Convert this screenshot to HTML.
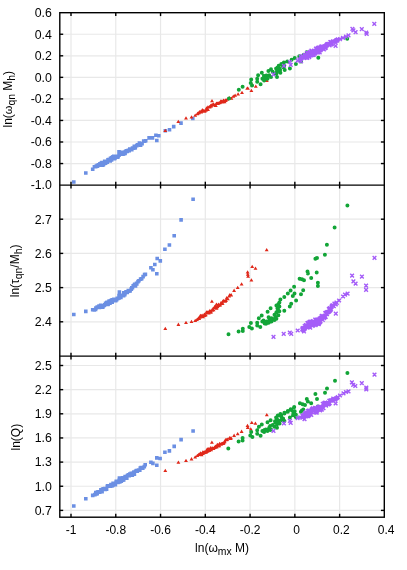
<!DOCTYPE html>
<html><head><meta charset="utf-8"><title>plot</title>
<style>html,body{margin:0;padding:0;background:#fff}body{width:407px;height:570px;overflow:hidden;font-family:"Liberation Sans",sans-serif}</style>
</head><body>
<svg width="407" height="570" viewBox="0 0 407 570" style="display:block;will-change:transform;opacity:0.999">
<rect width="407" height="570" fill="#fff"/>
<g stroke="#e8e8e8" stroke-width="1.2" fill="none">
<line x1="71.00" y1="12.7" x2="71.00" y2="517.2"/>
<line x1="115.77" y1="12.7" x2="115.77" y2="517.2"/>
<line x1="160.54" y1="12.7" x2="160.54" y2="517.2"/>
<line x1="205.31" y1="12.7" x2="205.31" y2="517.2"/>
<line x1="250.08" y1="12.7" x2="250.08" y2="517.2"/>
<line x1="294.85" y1="12.7" x2="294.85" y2="517.2"/>
<line x1="339.62" y1="12.7" x2="339.62" y2="517.2"/>
<line x1="59.8" y1="34.25" x2="384.3" y2="34.25"/>
<line x1="59.8" y1="55.80" x2="384.3" y2="55.80"/>
<line x1="59.8" y1="77.35" x2="384.3" y2="77.35"/>
<line x1="59.8" y1="98.90" x2="384.3" y2="98.90"/>
<line x1="59.8" y1="120.45" x2="384.3" y2="120.45"/>
<line x1="59.8" y1="142.00" x2="384.3" y2="142.00"/>
<line x1="59.8" y1="163.55" x2="384.3" y2="163.55"/>
<line x1="59.8" y1="219.20" x2="384.3" y2="219.20"/>
<line x1="59.8" y1="253.40" x2="384.3" y2="253.40"/>
<line x1="59.8" y1="287.60" x2="384.3" y2="287.60"/>
<line x1="59.8" y1="321.80" x2="384.3" y2="321.80"/>
<line x1="59.8" y1="365.50" x2="384.3" y2="365.50"/>
<line x1="59.8" y1="389.65" x2="384.3" y2="389.65"/>
<line x1="59.8" y1="413.80" x2="384.3" y2="413.80"/>
<line x1="59.8" y1="437.95" x2="384.3" y2="437.95"/>
<line x1="59.8" y1="462.10" x2="384.3" y2="462.10"/>
<line x1="59.8" y1="486.25" x2="384.3" y2="486.25"/>
<line x1="59.8" y1="510.40" x2="384.3" y2="510.40"/>
</g>
<path fill="#6b8fe3" d="M72.00 180.20h3.6v3.6h-3.6zM84.00 171.20h3.6v3.6h-3.6zM90.90 167.50h3.6v3.6h-3.6zM147.30 136.10h3.6v3.6h-3.6zM150.70 136.10h3.6v3.6h-3.6zM154.10 133.50h3.6v3.6h-3.6zM155.00 138.70h3.6v3.6h-3.6zM157.00 133.90h3.6v3.6h-3.6zM163.50 129.00h3.6v3.6h-3.6zM167.70 128.00h3.6v3.6h-3.6zM171.90 124.80h3.6v3.6h-3.6zM179.20 121.30h3.6v3.6h-3.6zM191.00 116.70h3.6v3.6h-3.6zM117.20 149.90h3.6v3.6h-3.6zM92.60 165.00h3.6v3.6h-3.6zM93.90 165.00h3.6v3.6h-3.6zM94.30 164.50h3.6v3.6h-3.6zM95.30 163.80h3.6v3.6h-3.6zM95.70 164.40h3.6v3.6h-3.6zM96.60 163.10h3.6v3.6h-3.6zM97.30 163.30h3.6v3.6h-3.6zM98.10 162.00h3.6v3.6h-3.6zM98.70 162.70h3.6v3.6h-3.6zM99.00 161.70h3.6v3.6h-3.6zM99.70 161.40h3.6v3.6h-3.6zM100.10 160.70h3.6v3.6h-3.6zM100.70 163.40h3.6v3.6h-3.6zM101.60 162.10h3.6v3.6h-3.6zM101.60 162.80h3.6v3.6h-3.6zM102.70 161.60h3.6v3.6h-3.6zM102.90 159.40h3.6v3.6h-3.6zM103.60 161.50h3.6v3.6h-3.6zM104.30 160.70h3.6v3.6h-3.6zM104.70 159.80h3.6v3.6h-3.6zM105.50 160.30h3.6v3.6h-3.6zM106.20 158.10h3.6v3.6h-3.6zM106.80 157.70h3.6v3.6h-3.6zM107.40 158.50h3.6v3.6h-3.6zM107.60 158.50h3.6v3.6h-3.6zM108.40 159.20h3.6v3.6h-3.6zM108.70 156.60h3.6v3.6h-3.6zM109.80 158.10h3.6v3.6h-3.6zM109.90 156.10h3.6v3.6h-3.6zM110.70 155.50h3.6v3.6h-3.6zM111.20 154.90h3.6v3.6h-3.6zM112.00 154.60h3.6v3.6h-3.6zM112.70 156.80h3.6v3.6h-3.6zM113.20 156.10h3.6v3.6h-3.6zM113.50 155.60h3.6v3.6h-3.6zM114.30 154.60h3.6v3.6h-3.6zM114.50 155.00h3.6v3.6h-3.6zM115.20 154.60h3.6v3.6h-3.6zM115.90 155.30h3.6v3.6h-3.6zM116.30 154.60h3.6v3.6h-3.6zM117.20 153.50h3.6v3.6h-3.6zM117.40 152.20h3.6v3.6h-3.6zM118.50 151.90h3.6v3.6h-3.6zM118.60 152.00h3.6v3.6h-3.6zM119.40 152.30h3.6v3.6h-3.6zM119.70 150.60h3.6v3.6h-3.6zM120.60 150.80h3.6v3.6h-3.6zM121.20 152.40h3.6v3.6h-3.6zM121.50 151.30h3.6v3.6h-3.6zM122.30 151.90h3.6v3.6h-3.6zM123.20 150.30h3.6v3.6h-3.6zM123.30 151.70h3.6v3.6h-3.6zM123.80 149.80h3.6v3.6h-3.6zM124.60 148.90h3.6v3.6h-3.6zM125.30 149.60h3.6v3.6h-3.6zM125.70 149.20h3.6v3.6h-3.6zM126.50 148.50h3.6v3.6h-3.6zM126.70 148.80h3.6v3.6h-3.6zM127.40 149.00h3.6v3.6h-3.6zM128.00 147.20h3.6v3.6h-3.6zM129.00 147.40h3.6v3.6h-3.6zM129.20 147.90h3.6v3.6h-3.6zM130.00 147.80h3.6v3.6h-3.6zM130.70 146.20h3.6v3.6h-3.6zM131.00 146.20h3.6v3.6h-3.6zM131.70 146.50h3.6v3.6h-3.6zM132.50 144.40h3.6v3.6h-3.6zM133.00 146.10h3.6v3.6h-3.6zM133.50 145.90h3.6v3.6h-3.6zM134.90 144.00h3.6v3.6h-3.6zM135.60 143.10h3.6v3.6h-3.6zM137.00 142.90h3.6v3.6h-3.6zM137.60 141.20h3.6v3.6h-3.6zM138.80 143.40h3.6v3.6h-3.6zM140.30 141.80h3.6v3.6h-3.6zM141.90 139.30h3.6v3.6h-3.6zM142.80 139.40h3.6v3.6h-3.6zM143.90 138.90h3.6v3.6h-3.6z"/>
<path fill="#e0281a" d="M165.30 128.82l1.95 3.3h-3.9zM178.30 119.72l1.95 3.3h-3.9zM186.00 116.32l1.95 3.3h-3.9zM191.50 115.32l1.95 3.3h-3.9zM195.20 113.42l1.95 3.3h-3.9zM212.00 99.02l1.95 3.3h-3.9zM235.10 93.52l1.95 3.3h-3.9zM238.10 92.22l1.95 3.3h-3.9zM242.00 90.82l1.95 3.3h-3.9zM247.90 86.52l1.95 3.3h-3.9zM251.40 88.82l1.95 3.3h-3.9zM255.80 84.52l1.95 3.3h-3.9zM247.20 86.52l1.95 3.3h-3.9zM252.40 83.02l1.95 3.3h-3.9zM266.80 78.62l1.95 3.3h-3.9zM197.30 111.92l1.95 3.3h-3.9zM198.10 111.32l1.95 3.3h-3.9zM199.00 111.02l1.95 3.3h-3.9zM199.40 110.32l1.95 3.3h-3.9zM200.10 109.72l1.95 3.3h-3.9zM201.20 110.32l1.95 3.3h-3.9zM201.70 109.42l1.95 3.3h-3.9zM202.30 108.12l1.95 3.3h-3.9zM202.90 109.22l1.95 3.3h-3.9zM203.50 108.72l1.95 3.3h-3.9zM204.60 109.32l1.95 3.3h-3.9zM204.70 109.42l1.95 3.3h-3.9zM205.90 108.42l1.95 3.3h-3.9zM206.50 106.32l1.95 3.3h-3.9zM206.80 107.52l1.95 3.3h-3.9zM207.90 105.32l1.95 3.3h-3.9zM208.00 107.72l1.95 3.3h-3.9zM209.30 105.12l1.95 3.3h-3.9zM209.90 104.92l1.95 3.3h-3.9zM210.60 103.72l1.95 3.3h-3.9zM211.20 104.12l1.95 3.3h-3.9zM211.80 103.22l1.95 3.3h-3.9zM212.50 103.02l1.95 3.3h-3.9zM213.10 102.72l1.95 3.3h-3.9zM213.70 102.62l1.95 3.3h-3.9zM214.30 103.22l1.95 3.3h-3.9zM215.20 103.32l1.95 3.3h-3.9zM215.80 103.72l1.95 3.3h-3.9zM216.40 101.42l1.95 3.3h-3.9zM217.30 101.62l1.95 3.3h-3.9zM218.10 101.42l1.95 3.3h-3.9zM218.20 101.22l1.95 3.3h-3.9zM219.50 101.02l1.95 3.3h-3.9zM220.10 100.52l1.95 3.3h-3.9zM220.60 99.52l1.95 3.3h-3.9zM221.00 99.42l1.95 3.3h-3.9zM221.80 99.62l1.95 3.3h-3.9zM222.60 100.12l1.95 3.3h-3.9zM223.10 99.02l1.95 3.3h-3.9zM223.60 98.42l1.95 3.3h-3.9zM224.60 99.92l1.95 3.3h-3.9zM225.20 98.52l1.95 3.3h-3.9zM225.80 98.62l1.95 3.3h-3.9zM227.20 97.42l1.95 3.3h-3.9zM228.30 96.82l1.95 3.3h-3.9zM229.60 96.02l1.95 3.3h-3.9zM231.40 96.42l1.95 3.3h-3.9zM233.30 94.42l1.95 3.3h-3.9z"/>
<path fill="#12a537" d="M227.00 98.60a2.0 2.0 0 1 0 4.0 0a2.0 2.0 0 1 0 -4.0 0zM236.80 89.70a2.0 2.0 0 1 0 4.0 0a2.0 2.0 0 1 0 -4.0 0zM240.60 86.80a2.0 2.0 0 1 0 4.0 0a2.0 2.0 0 1 0 -4.0 0zM249.20 79.60a2.0 2.0 0 1 0 4.0 0a2.0 2.0 0 1 0 -4.0 0zM259.80 72.70a2.0 2.0 0 1 0 4.0 0a2.0 2.0 0 1 0 -4.0 0zM345.20 38.70a2.0 2.0 0 1 0 4.0 0a2.0 2.0 0 1 0 -4.0 0zM316.30 57.80a2.0 2.0 0 1 0 4.0 0a2.0 2.0 0 1 0 -4.0 0zM304.70 52.20a2.0 2.0 0 1 0 4.0 0a2.0 2.0 0 1 0 -4.0 0zM299.00 61.50a2.0 2.0 0 1 0 4.0 0a2.0 2.0 0 1 0 -4.0 0zM301.50 55.00a2.0 2.0 0 1 0 4.0 0a2.0 2.0 0 1 0 -4.0 0zM307.00 53.50a2.0 2.0 0 1 0 4.0 0a2.0 2.0 0 1 0 -4.0 0zM248.70 83.00a2.0 2.0 0 1 0 4.0 0a2.0 2.0 0 1 0 -4.0 0zM250.00 85.60a2.0 2.0 0 1 0 4.0 0a2.0 2.0 0 1 0 -4.0 0zM255.20 78.70a2.0 2.0 0 1 0 4.0 0a2.0 2.0 0 1 0 -4.0 0zM256.10 75.30a2.0 2.0 0 1 0 4.0 0a2.0 2.0 0 1 0 -4.0 0zM255.20 81.80a2.0 2.0 0 1 0 4.0 0a2.0 2.0 0 1 0 -4.0 0zM258.60 84.20a2.0 2.0 0 1 0 4.0 0a2.0 2.0 0 1 0 -4.0 0zM260.40 78.70a2.0 2.0 0 1 0 4.0 0a2.0 2.0 0 1 0 -4.0 0zM262.10 80.40a2.0 2.0 0 1 0 4.0 0a2.0 2.0 0 1 0 -4.0 0zM263.80 77.00a2.0 2.0 0 1 0 4.0 0a2.0 2.0 0 1 0 -4.0 0zM265.50 78.70a2.0 2.0 0 1 0 4.0 0a2.0 2.0 0 1 0 -4.0 0zM267.20 75.30a2.0 2.0 0 1 0 4.0 0a2.0 2.0 0 1 0 -4.0 0zM269.00 77.00a2.0 2.0 0 1 0 4.0 0a2.0 2.0 0 1 0 -4.0 0zM266.40 71.00a2.0 2.0 0 1 0 4.0 0a2.0 2.0 0 1 0 -4.0 0zM269.00 69.20a2.0 2.0 0 1 0 4.0 0a2.0 2.0 0 1 0 -4.0 0zM270.70 71.80a2.0 2.0 0 1 0 4.0 0a2.0 2.0 0 1 0 -4.0 0zM272.40 73.50a2.0 2.0 0 1 0 4.0 0a2.0 2.0 0 1 0 -4.0 0zM274.10 68.40a2.0 2.0 0 1 0 4.0 0a2.0 2.0 0 1 0 -4.0 0zM275.00 71.00a2.0 2.0 0 1 0 4.0 0a2.0 2.0 0 1 0 -4.0 0zM276.70 65.80a2.0 2.0 0 1 0 4.0 0a2.0 2.0 0 1 0 -4.0 0zM277.60 69.20a2.0 2.0 0 1 0 4.0 0a2.0 2.0 0 1 0 -4.0 0zM278.40 72.70a2.0 2.0 0 1 0 4.0 0a2.0 2.0 0 1 0 -4.0 0zM279.30 64.10a2.0 2.0 0 1 0 4.0 0a2.0 2.0 0 1 0 -4.0 0zM281.00 66.70a2.0 2.0 0 1 0 4.0 0a2.0 2.0 0 1 0 -4.0 0zM275.00 77.00a2.0 2.0 0 1 0 4.0 0a2.0 2.0 0 1 0 -4.0 0zM282.70 70.10a2.0 2.0 0 1 0 4.0 0a2.0 2.0 0 1 0 -4.0 0zM281.90 62.40a2.0 2.0 0 1 0 4.0 0a2.0 2.0 0 1 0 -4.0 0zM285.30 61.50a2.0 2.0 0 1 0 4.0 0a2.0 2.0 0 1 0 -4.0 0zM287.90 68.40a2.0 2.0 0 1 0 4.0 0a2.0 2.0 0 1 0 -4.0 0zM289.60 59.80a2.0 2.0 0 1 0 4.0 0a2.0 2.0 0 1 0 -4.0 0zM292.70 58.10a2.0 2.0 0 1 0 4.0 0a2.0 2.0 0 1 0 -4.0 0zM293.90 64.10a2.0 2.0 0 1 0 4.0 0a2.0 2.0 0 1 0 -4.0 0zM297.30 56.30a2.0 2.0 0 1 0 4.0 0a2.0 2.0 0 1 0 -4.0 0zM274.50 73.40a2.0 2.0 0 1 0 4.0 0a2.0 2.0 0 1 0 -4.0 0zM264.30 75.50a2.0 2.0 0 1 0 4.0 0a2.0 2.0 0 1 0 -4.0 0zM261.50 79.10a2.0 2.0 0 1 0 4.0 0a2.0 2.0 0 1 0 -4.0 0zM278.10 70.00a2.0 2.0 0 1 0 4.0 0a2.0 2.0 0 1 0 -4.0 0zM282.20 65.60a2.0 2.0 0 1 0 4.0 0a2.0 2.0 0 1 0 -4.0 0zM275.60 67.60a2.0 2.0 0 1 0 4.0 0a2.0 2.0 0 1 0 -4.0 0zM277.00 67.20a2.0 2.0 0 1 0 4.0 0a2.0 2.0 0 1 0 -4.0 0zM281.70 67.40a2.0 2.0 0 1 0 4.0 0a2.0 2.0 0 1 0 -4.0 0zM282.30 65.40a2.0 2.0 0 1 0 4.0 0a2.0 2.0 0 1 0 -4.0 0zM261.90 76.00a2.0 2.0 0 1 0 4.0 0a2.0 2.0 0 1 0 -4.0 0z"/>
<path fill="none" stroke="#a45cf8" stroke-width="1.4" d="M271.65 72.55l3.7 3.7m0 -3.7l-3.7 3.7M282.05 63.95l3.7 3.7m0 -3.7l-3.7 3.7M288.05 60.15l3.7 3.7m0 -3.7l-3.7 3.7M288.85 63.05l3.7 3.7m0 -3.7l-3.7 3.7M295.75 58.75l3.7 3.7m0 -3.7l-3.7 3.7M299.25 59.65l3.7 3.7m0 -3.7l-3.7 3.7M333.75 43.95l3.7 3.7m0 -3.7l-3.7 3.7M350.55 27.05l3.7 3.7m0 -3.7l-3.7 3.7M351.55 28.55l3.7 3.7m0 -3.7l-3.7 3.7M353.75 30.25l3.7 3.7m0 -3.7l-3.7 3.7M359.95 27.35l3.7 3.7m0 -3.7l-3.7 3.7M364.35 30.65l3.7 3.7m0 -3.7l-3.7 3.7M364.85 32.15l3.7 3.7m0 -3.7l-3.7 3.7M372.45 22.05l3.7 3.7m0 -3.7l-3.7 3.7M338.15 37.35l3.7 3.7m0 -3.7l-3.7 3.7M341.15 35.95l3.7 3.7m0 -3.7l-3.7 3.7M344.15 34.75l3.7 3.7m0 -3.7l-3.7 3.7M346.65 33.55l3.7 3.7m0 -3.7l-3.7 3.7M297.45 57.55l3.7 3.7m0 -3.7l-3.7 3.7M298.65 57.65l3.7 3.7m0 -3.7l-3.7 3.7M298.85 54.95l3.7 3.7m0 -3.7l-3.7 3.7M299.45 56.55l3.7 3.7m0 -3.7l-3.7 3.7M300.45 54.35l3.7 3.7m0 -3.7l-3.7 3.7M300.75 55.55l3.7 3.7m0 -3.7l-3.7 3.7M301.25 55.45l3.7 3.7m0 -3.7l-3.7 3.7M301.65 55.45l3.7 3.7m0 -3.7l-3.7 3.7M302.35 56.05l3.7 3.7m0 -3.7l-3.7 3.7M302.85 54.15l3.7 3.7m0 -3.7l-3.7 3.7M302.85 53.05l3.7 3.7m0 -3.7l-3.7 3.7M303.35 55.65l3.7 3.7m0 -3.7l-3.7 3.7M303.75 54.45l3.7 3.7m0 -3.7l-3.7 3.7M304.35 53.35l3.7 3.7m0 -3.7l-3.7 3.7M304.45 55.85l3.7 3.7m0 -3.7l-3.7 3.7M305.15 50.95l3.7 3.7m0 -3.7l-3.7 3.7M305.45 56.05l3.7 3.7m0 -3.7l-3.7 3.7M305.55 52.35l3.7 3.7m0 -3.7l-3.7 3.7M305.95 51.35l3.7 3.7m0 -3.7l-3.7 3.7M306.55 52.35l3.7 3.7m0 -3.7l-3.7 3.7M306.75 51.85l3.7 3.7m0 -3.7l-3.7 3.7M307.35 55.35l3.7 3.7m0 -3.7l-3.7 3.7M307.45 50.85l3.7 3.7m0 -3.7l-3.7 3.7M307.85 53.85l3.7 3.7m0 -3.7l-3.7 3.7M308.45 49.95l3.7 3.7m0 -3.7l-3.7 3.7M308.45 50.75l3.7 3.7m0 -3.7l-3.7 3.7M309.15 53.55l3.7 3.7m0 -3.7l-3.7 3.7M309.55 50.85l3.7 3.7m0 -3.7l-3.7 3.7M309.55 48.65l3.7 3.7m0 -3.7l-3.7 3.7M310.25 50.35l3.7 3.7m0 -3.7l-3.7 3.7M310.35 49.75l3.7 3.7m0 -3.7l-3.7 3.7M310.75 53.35l3.7 3.7m0 -3.7l-3.7 3.7M311.15 50.75l3.7 3.7m0 -3.7l-3.7 3.7M311.45 50.75l3.7 3.7m0 -3.7l-3.7 3.7M311.85 53.05l3.7 3.7m0 -3.7l-3.7 3.7M312.45 51.45l3.7 3.7m0 -3.7l-3.7 3.7M312.75 51.45l3.7 3.7m0 -3.7l-3.7 3.7M312.95 49.25l3.7 3.7m0 -3.7l-3.7 3.7M313.55 51.45l3.7 3.7m0 -3.7l-3.7 3.7M313.75 49.05l3.7 3.7m0 -3.7l-3.7 3.7M314.05 46.65l3.7 3.7m0 -3.7l-3.7 3.7M314.75 47.45l3.7 3.7m0 -3.7l-3.7 3.7M315.05 47.35l3.7 3.7m0 -3.7l-3.7 3.7M315.25 49.35l3.7 3.7m0 -3.7l-3.7 3.7M315.55 47.75l3.7 3.7m0 -3.7l-3.7 3.7M315.95 45.95l3.7 3.7m0 -3.7l-3.7 3.7M316.35 50.55l3.7 3.7m0 -3.7l-3.7 3.7M316.65 48.05l3.7 3.7m0 -3.7l-3.7 3.7M317.15 48.25l3.7 3.7m0 -3.7l-3.7 3.7M317.45 45.45l3.7 3.7m0 -3.7l-3.7 3.7M317.85 50.55l3.7 3.7m0 -3.7l-3.7 3.7M318.25 47.35l3.7 3.7m0 -3.7l-3.7 3.7M318.55 48.65l3.7 3.7m0 -3.7l-3.7 3.7M318.85 47.95l3.7 3.7m0 -3.7l-3.7 3.7M319.35 44.75l3.7 3.7m0 -3.7l-3.7 3.7M319.75 46.05l3.7 3.7m0 -3.7l-3.7 3.7M319.95 46.55l3.7 3.7m0 -3.7l-3.7 3.7M320.35 44.45l3.7 3.7m0 -3.7l-3.7 3.7M320.95 46.55l3.7 3.7m0 -3.7l-3.7 3.7M321.25 47.15l3.7 3.7m0 -3.7l-3.7 3.7M321.75 45.15l3.7 3.7m0 -3.7l-3.7 3.7M322.05 47.65l3.7 3.7m0 -3.7l-3.7 3.7M322.35 45.35l3.7 3.7m0 -3.7l-3.7 3.7M322.85 44.55l3.7 3.7m0 -3.7l-3.7 3.7M323.25 46.35l3.7 3.7m0 -3.7l-3.7 3.7M323.85 44.25l3.7 3.7m0 -3.7l-3.7 3.7M324.05 45.75l3.7 3.7m0 -3.7l-3.7 3.7M324.65 43.05l3.7 3.7m0 -3.7l-3.7 3.7M324.95 42.75l3.7 3.7m0 -3.7l-3.7 3.7M325.45 42.35l3.7 3.7m0 -3.7l-3.7 3.7M325.75 42.45l3.7 3.7m0 -3.7l-3.7 3.7M326.15 42.35l3.7 3.7m0 -3.7l-3.7 3.7M326.75 42.05l3.7 3.7m0 -3.7l-3.7 3.7M327.65 43.15l3.7 3.7m0 -3.7l-3.7 3.7M327.75 43.55l3.7 3.7m0 -3.7l-3.7 3.7M328.45 40.25l3.7 3.7m0 -3.7l-3.7 3.7M328.95 40.25l3.7 3.7m0 -3.7l-3.7 3.7M329.35 42.55l3.7 3.7m0 -3.7l-3.7 3.7M330.15 42.05l3.7 3.7m0 -3.7l-3.7 3.7M330.65 40.05l3.7 3.7m0 -3.7l-3.7 3.7M331.15 39.55l3.7 3.7m0 -3.7l-3.7 3.7M332.05 39.95l3.7 3.7m0 -3.7l-3.7 3.7M332.85 39.45l3.7 3.7m0 -3.7l-3.7 3.7M333.45 39.95l3.7 3.7m0 -3.7l-3.7 3.7M333.65 39.45l3.7 3.7m0 -3.7l-3.7 3.7M334.35 38.55l3.7 3.7m0 -3.7l-3.7 3.7M335.15 38.75l3.7 3.7m0 -3.7l-3.7 3.7M335.95 37.45l3.7 3.7m0 -3.7l-3.7 3.7"/>
<path fill="#6b8fe3" d="M72.00 312.70h3.6v3.6h-3.6zM84.00 309.60h3.6v3.6h-3.6zM90.90 307.90h3.6v3.6h-3.6zM117.60 290.20h3.6v3.6h-3.6zM149.10 266.00h3.6v3.6h-3.6zM151.10 267.90h3.6v3.6h-3.6zM155.00 271.90h3.6v3.6h-3.6zM153.00 262.70h3.6v3.6h-3.6zM155.40 256.70h3.6v3.6h-3.6zM158.50 259.10h3.6v3.6h-3.6zM163.10 247.40h3.6v3.6h-3.6zM167.60 243.20h3.6v3.6h-3.6zM172.40 234.00h3.6v3.6h-3.6zM179.30 218.10h3.6v3.6h-3.6zM191.30 197.50h3.6v3.6h-3.6zM92.50 308.20h3.6v3.6h-3.6zM93.80 307.70h3.6v3.6h-3.6zM94.10 306.30h3.6v3.6h-3.6zM95.40 305.20h3.6v3.6h-3.6zM95.70 305.20h3.6v3.6h-3.6zM96.80 305.20h3.6v3.6h-3.6zM97.20 304.30h3.6v3.6h-3.6zM97.60 305.60h3.6v3.6h-3.6zM98.60 304.60h3.6v3.6h-3.6zM98.90 303.50h3.6v3.6h-3.6zM99.30 303.70h3.6v3.6h-3.6zM100.00 304.60h3.6v3.6h-3.6zM100.70 305.50h3.6v3.6h-3.6zM101.20 304.90h3.6v3.6h-3.6zM101.70 303.70h3.6v3.6h-3.6zM102.50 303.70h3.6v3.6h-3.6zM103.00 303.00h3.6v3.6h-3.6zM103.80 301.50h3.6v3.6h-3.6zM104.20 302.60h3.6v3.6h-3.6zM105.00 301.00h3.6v3.6h-3.6zM105.30 300.40h3.6v3.6h-3.6zM106.00 302.60h3.6v3.6h-3.6zM106.40 302.20h3.6v3.6h-3.6zM107.20 299.40h3.6v3.6h-3.6zM107.70 299.30h3.6v3.6h-3.6zM108.20 301.30h3.6v3.6h-3.6zM108.60 300.30h3.6v3.6h-3.6zM109.20 298.70h3.6v3.6h-3.6zM110.30 298.00h3.6v3.6h-3.6zM110.40 300.50h3.6v3.6h-3.6zM111.10 298.00h3.6v3.6h-3.6zM111.50 298.60h3.6v3.6h-3.6zM112.10 297.40h3.6v3.6h-3.6zM112.80 298.70h3.6v3.6h-3.6zM113.30 297.90h3.6v3.6h-3.6zM113.90 298.80h3.6v3.6h-3.6zM114.90 298.00h3.6v3.6h-3.6zM115.50 296.50h3.6v3.6h-3.6zM116.10 296.40h3.6v3.6h-3.6zM116.20 296.60h3.6v3.6h-3.6zM117.20 293.80h3.6v3.6h-3.6zM117.40 296.10h3.6v3.6h-3.6zM118.30 294.90h3.6v3.6h-3.6zM118.50 293.80h3.6v3.6h-3.6zM119.10 295.60h3.6v3.6h-3.6zM119.70 293.40h3.6v3.6h-3.6zM120.60 293.80h3.6v3.6h-3.6zM121.10 293.50h3.6v3.6h-3.6zM121.80 293.80h3.6v3.6h-3.6zM122.00 291.00h3.6v3.6h-3.6zM123.00 292.90h3.6v3.6h-3.6zM123.30 291.20h3.6v3.6h-3.6zM124.00 290.70h3.6v3.6h-3.6zM124.30 290.00h3.6v3.6h-3.6zM125.00 290.40h3.6v3.6h-3.6zM125.50 290.60h3.6v3.6h-3.6zM126.50 288.80h3.6v3.6h-3.6zM126.90 289.30h3.6v3.6h-3.6zM127.60 288.70h3.6v3.6h-3.6zM128.00 288.70h3.6v3.6h-3.6zM128.30 289.10h3.6v3.6h-3.6zM129.40 287.40h3.6v3.6h-3.6zM129.60 287.10h3.6v3.6h-3.6zM130.00 286.00h3.6v3.6h-3.6zM130.70 285.90h3.6v3.6h-3.6zM131.40 283.90h3.6v3.6h-3.6zM132.40 283.60h3.6v3.6h-3.6zM132.90 282.40h3.6v3.6h-3.6zM133.70 284.10h3.6v3.6h-3.6zM134.70 281.50h3.6v3.6h-3.6zM135.00 282.10h3.6v3.6h-3.6zM136.20 279.80h3.6v3.6h-3.6zM137.10 279.00h3.6v3.6h-3.6zM138.80 277.30h3.6v3.6h-3.6zM139.90 277.00h3.6v3.6h-3.6zM141.30 274.80h3.6v3.6h-3.6zM142.80 272.80h3.6v3.6h-3.6zM143.60 272.40h3.6v3.6h-3.6z"/>
<path fill="#e0281a" d="M165.30 326.72l1.95 3.3h-3.9zM178.40 322.62l1.95 3.3h-3.9zM186.00 320.72l1.95 3.3h-3.9zM191.50 319.72l1.95 3.3h-3.9zM195.20 318.72l1.95 3.3h-3.9zM211.90 299.42l1.95 3.3h-3.9zM216.40 302.42l1.95 3.3h-3.9zM234.10 288.62l1.95 3.3h-3.9zM237.70 285.72l1.95 3.3h-3.9zM241.60 282.22l1.95 3.3h-3.9zM247.60 270.32l1.95 3.3h-3.9zM247.80 272.42l1.95 3.3h-3.9zM248.10 274.42l1.95 3.3h-3.9zM251.40 278.22l1.95 3.3h-3.9zM252.20 264.82l1.95 3.3h-3.9zM255.50 266.52l1.95 3.3h-3.9zM266.70 248.02l1.95 3.3h-3.9zM197.00 317.72l1.95 3.3h-3.9zM198.30 316.52l1.95 3.3h-3.9zM199.20 316.72l1.95 3.3h-3.9zM199.80 315.42l1.95 3.3h-3.9zM200.20 313.92l1.95 3.3h-3.9zM200.90 313.82l1.95 3.3h-3.9zM202.10 314.52l1.95 3.3h-3.9zM202.20 313.62l1.95 3.3h-3.9zM203.10 314.92l1.95 3.3h-3.9zM203.70 313.52l1.95 3.3h-3.9zM204.30 312.42l1.95 3.3h-3.9zM204.80 313.72l1.95 3.3h-3.9zM205.80 312.92l1.95 3.3h-3.9zM206.50 310.22l1.95 3.3h-3.9zM207.00 310.72l1.95 3.3h-3.9zM208.00 310.12l1.95 3.3h-3.9zM208.70 311.12l1.95 3.3h-3.9zM209.20 309.92l1.95 3.3h-3.9zM209.90 308.82l1.95 3.3h-3.9zM210.20 310.42l1.95 3.3h-3.9zM211.10 310.12l1.95 3.3h-3.9zM211.90 308.32l1.95 3.3h-3.9zM212.40 308.42l1.95 3.3h-3.9zM212.90 306.92l1.95 3.3h-3.9zM213.60 308.02l1.95 3.3h-3.9zM214.70 304.82l1.95 3.3h-3.9zM214.70 305.62l1.95 3.3h-3.9zM215.80 305.12l1.95 3.3h-3.9zM216.60 306.42l1.95 3.3h-3.9zM217.20 304.92l1.95 3.3h-3.9zM217.50 304.42l1.95 3.3h-3.9zM218.40 302.42l1.95 3.3h-3.9zM218.70 303.82l1.95 3.3h-3.9zM220.00 302.72l1.95 3.3h-3.9zM220.20 303.32l1.95 3.3h-3.9zM220.90 301.12l1.95 3.3h-3.9zM221.90 301.72l1.95 3.3h-3.9zM222.60 301.52l1.95 3.3h-3.9zM222.70 299.52l1.95 3.3h-3.9zM223.70 298.82l1.95 3.3h-3.9zM224.60 299.52l1.95 3.3h-3.9zM225.20 299.42l1.95 3.3h-3.9zM226.00 298.72l1.95 3.3h-3.9zM226.70 295.92l1.95 3.3h-3.9zM227.80 296.92l1.95 3.3h-3.9zM229.10 294.12l1.95 3.3h-3.9zM229.80 293.12l1.95 3.3h-3.9zM231.20 293.12l1.95 3.3h-3.9z"/>
<path fill="#12a537" d="M226.50 334.30a2.0 2.0 0 1 0 4.0 0a2.0 2.0 0 1 0 -4.0 0zM236.60 331.50a2.0 2.0 0 1 0 4.0 0a2.0 2.0 0 1 0 -4.0 0zM240.80 331.00a2.0 2.0 0 1 0 4.0 0a2.0 2.0 0 1 0 -4.0 0zM240.80 328.80a2.0 2.0 0 1 0 4.0 0a2.0 2.0 0 1 0 -4.0 0zM248.90 323.10a2.0 2.0 0 1 0 4.0 0a2.0 2.0 0 1 0 -4.0 0zM247.30 327.00a2.0 2.0 0 1 0 4.0 0a2.0 2.0 0 1 0 -4.0 0zM249.90 328.60a2.0 2.0 0 1 0 4.0 0a2.0 2.0 0 1 0 -4.0 0zM255.20 322.70a2.0 2.0 0 1 0 4.0 0a2.0 2.0 0 1 0 -4.0 0zM255.20 325.40a2.0 2.0 0 1 0 4.0 0a2.0 2.0 0 1 0 -4.0 0zM258.30 327.00a2.0 2.0 0 1 0 4.0 0a2.0 2.0 0 1 0 -4.0 0zM256.80 318.20a2.0 2.0 0 1 0 4.0 0a2.0 2.0 0 1 0 -4.0 0zM259.70 315.60a2.0 2.0 0 1 0 4.0 0a2.0 2.0 0 1 0 -4.0 0zM260.30 321.50a2.0 2.0 0 1 0 4.0 0a2.0 2.0 0 1 0 -4.0 0zM262.70 323.50a2.0 2.0 0 1 0 4.0 0a2.0 2.0 0 1 0 -4.0 0zM264.60 321.50a2.0 2.0 0 1 0 4.0 0a2.0 2.0 0 1 0 -4.0 0zM266.60 322.70a2.0 2.0 0 1 0 4.0 0a2.0 2.0 0 1 0 -4.0 0zM269.50 321.50a2.0 2.0 0 1 0 4.0 0a2.0 2.0 0 1 0 -4.0 0zM272.50 320.10a2.0 2.0 0 1 0 4.0 0a2.0 2.0 0 1 0 -4.0 0zM274.40 318.70a2.0 2.0 0 1 0 4.0 0a2.0 2.0 0 1 0 -4.0 0zM266.60 317.20a2.0 2.0 0 1 0 4.0 0a2.0 2.0 0 1 0 -4.0 0zM269.50 318.20a2.0 2.0 0 1 0 4.0 0a2.0 2.0 0 1 0 -4.0 0zM265.60 311.70a2.0 2.0 0 1 0 4.0 0a2.0 2.0 0 1 0 -4.0 0zM268.60 308.30a2.0 2.0 0 1 0 4.0 0a2.0 2.0 0 1 0 -4.0 0zM272.50 314.80a2.0 2.0 0 1 0 4.0 0a2.0 2.0 0 1 0 -4.0 0zM274.40 312.30a2.0 2.0 0 1 0 4.0 0a2.0 2.0 0 1 0 -4.0 0zM276.40 315.20a2.0 2.0 0 1 0 4.0 0a2.0 2.0 0 1 0 -4.0 0zM277.40 311.30a2.0 2.0 0 1 0 4.0 0a2.0 2.0 0 1 0 -4.0 0zM274.40 305.40a2.0 2.0 0 1 0 4.0 0a2.0 2.0 0 1 0 -4.0 0zM275.40 308.30a2.0 2.0 0 1 0 4.0 0a2.0 2.0 0 1 0 -4.0 0zM277.40 306.40a2.0 2.0 0 1 0 4.0 0a2.0 2.0 0 1 0 -4.0 0zM278.40 299.50a2.0 2.0 0 1 0 4.0 0a2.0 2.0 0 1 0 -4.0 0zM277.40 302.40a2.0 2.0 0 1 0 4.0 0a2.0 2.0 0 1 0 -4.0 0zM282.30 296.90a2.0 2.0 0 1 0 4.0 0a2.0 2.0 0 1 0 -4.0 0zM282.30 310.70a2.0 2.0 0 1 0 4.0 0a2.0 2.0 0 1 0 -4.0 0zM285.80 293.60a2.0 2.0 0 1 0 4.0 0a2.0 2.0 0 1 0 -4.0 0zM288.60 290.60a2.0 2.0 0 1 0 4.0 0a2.0 2.0 0 1 0 -4.0 0zM292.10 286.70a2.0 2.0 0 1 0 4.0 0a2.0 2.0 0 1 0 -4.0 0zM292.50 293.60a2.0 2.0 0 1 0 4.0 0a2.0 2.0 0 1 0 -4.0 0zM290.80 296.10a2.0 2.0 0 1 0 4.0 0a2.0 2.0 0 1 0 -4.0 0zM294.10 300.50a2.0 2.0 0 1 0 4.0 0a2.0 2.0 0 1 0 -4.0 0zM289.20 303.80a2.0 2.0 0 1 0 4.0 0a2.0 2.0 0 1 0 -4.0 0zM287.80 306.40a2.0 2.0 0 1 0 4.0 0a2.0 2.0 0 1 0 -4.0 0zM301.20 290.20a2.0 2.0 0 1 0 4.0 0a2.0 2.0 0 1 0 -4.0 0zM299.00 294.20a2.0 2.0 0 1 0 4.0 0a2.0 2.0 0 1 0 -4.0 0zM297.60 278.80a2.0 2.0 0 1 0 4.0 0a2.0 2.0 0 1 0 -4.0 0zM300.00 279.20a2.0 2.0 0 1 0 4.0 0a2.0 2.0 0 1 0 -4.0 0zM302.00 280.20a2.0 2.0 0 1 0 4.0 0a2.0 2.0 0 1 0 -4.0 0zM305.50 271.40a2.0 2.0 0 1 0 4.0 0a2.0 2.0 0 1 0 -4.0 0zM305.90 273.50a2.0 2.0 0 1 0 4.0 0a2.0 2.0 0 1 0 -4.0 0zM309.20 277.90a2.0 2.0 0 1 0 4.0 0a2.0 2.0 0 1 0 -4.0 0zM314.70 272.40a2.0 2.0 0 1 0 4.0 0a2.0 2.0 0 1 0 -4.0 0zM315.90 282.80a2.0 2.0 0 1 0 4.0 0a2.0 2.0 0 1 0 -4.0 0zM315.90 286.10a2.0 2.0 0 1 0 4.0 0a2.0 2.0 0 1 0 -4.0 0zM313.40 258.80a2.0 2.0 0 1 0 4.0 0a2.0 2.0 0 1 0 -4.0 0zM315.00 258.10a2.0 2.0 0 1 0 4.0 0a2.0 2.0 0 1 0 -4.0 0zM322.90 254.70a2.0 2.0 0 1 0 4.0 0a2.0 2.0 0 1 0 -4.0 0zM324.90 244.70a2.0 2.0 0 1 0 4.0 0a2.0 2.0 0 1 0 -4.0 0zM332.60 227.40a2.0 2.0 0 1 0 4.0 0a2.0 2.0 0 1 0 -4.0 0zM345.40 205.60a2.0 2.0 0 1 0 4.0 0a2.0 2.0 0 1 0 -4.0 0zM261.50 320.50a2.0 2.0 0 1 0 4.0 0a2.0 2.0 0 1 0 -4.0 0zM264.00 323.80a2.0 2.0 0 1 0 4.0 0a2.0 2.0 0 1 0 -4.0 0zM267.50 320.00a2.0 2.0 0 1 0 4.0 0a2.0 2.0 0 1 0 -4.0 0zM271.00 319.00a2.0 2.0 0 1 0 4.0 0a2.0 2.0 0 1 0 -4.0 0zM273.50 317.00a2.0 2.0 0 1 0 4.0 0a2.0 2.0 0 1 0 -4.0 0zM276.00 309.00a2.0 2.0 0 1 0 4.0 0a2.0 2.0 0 1 0 -4.0 0zM276.50 304.00a2.0 2.0 0 1 0 4.0 0a2.0 2.0 0 1 0 -4.0 0z"/>
<path fill="none" stroke="#a45cf8" stroke-width="1.4" d="M271.65 334.95l3.7 3.7m0 -3.7l-3.7 3.7M281.85 332.05l3.7 3.7m0 -3.7l-3.7 3.7M287.95 330.65l3.7 3.7m0 -3.7l-3.7 3.7M289.35 332.05l3.7 3.7m0 -3.7l-3.7 3.7M295.85 328.65l3.7 3.7m0 -3.7l-3.7 3.7M302.15 329.65l3.7 3.7m0 -3.7l-3.7 3.7M337.25 298.65l3.7 3.7m0 -3.7l-3.7 3.7M341.25 294.65l3.7 3.7m0 -3.7l-3.7 3.7M343.15 292.75l3.7 3.7m0 -3.7l-3.7 3.7M345.75 291.75l3.7 3.7m0 -3.7l-3.7 3.7M333.95 311.75l3.7 3.7m0 -3.7l-3.7 3.7M350.25 273.75l3.7 3.7m0 -3.7l-3.7 3.7M360.05 274.85l3.7 3.7m0 -3.7l-3.7 3.7M351.55 279.45l3.7 3.7m0 -3.7l-3.7 3.7M353.75 281.85l3.7 3.7m0 -3.7l-3.7 3.7M364.25 283.85l3.7 3.7m0 -3.7l-3.7 3.7M364.25 287.95l3.7 3.7m0 -3.7l-3.7 3.7M372.65 256.05l3.7 3.7m0 -3.7l-3.7 3.7M300.35 327.45l3.7 3.7m0 -3.7l-3.7 3.7M300.85 326.25l3.7 3.7m0 -3.7l-3.7 3.7M301.35 328.15l3.7 3.7m0 -3.7l-3.7 3.7M301.65 328.45l3.7 3.7m0 -3.7l-3.7 3.7M302.05 326.15l3.7 3.7m0 -3.7l-3.7 3.7M302.75 327.15l3.7 3.7m0 -3.7l-3.7 3.7M302.85 324.25l3.7 3.7m0 -3.7l-3.7 3.7M303.25 325.95l3.7 3.7m0 -3.7l-3.7 3.7M303.65 324.95l3.7 3.7m0 -3.7l-3.7 3.7M304.05 323.15l3.7 3.7m0 -3.7l-3.7 3.7M304.45 324.55l3.7 3.7m0 -3.7l-3.7 3.7M304.85 323.85l3.7 3.7m0 -3.7l-3.7 3.7M305.05 323.65l3.7 3.7m0 -3.7l-3.7 3.7M305.55 321.35l3.7 3.7m0 -3.7l-3.7 3.7M305.85 321.15l3.7 3.7m0 -3.7l-3.7 3.7M306.35 321.85l3.7 3.7m0 -3.7l-3.7 3.7M306.55 321.05l3.7 3.7m0 -3.7l-3.7 3.7M306.85 325.05l3.7 3.7m0 -3.7l-3.7 3.7M307.35 324.85l3.7 3.7m0 -3.7l-3.7 3.7M307.75 319.95l3.7 3.7m0 -3.7l-3.7 3.7M308.05 320.05l3.7 3.7m0 -3.7l-3.7 3.7M308.35 325.75l3.7 3.7m0 -3.7l-3.7 3.7M308.65 323.25l3.7 3.7m0 -3.7l-3.7 3.7M309.05 319.95l3.7 3.7m0 -3.7l-3.7 3.7M309.45 319.85l3.7 3.7m0 -3.7l-3.7 3.7M309.55 320.85l3.7 3.7m0 -3.7l-3.7 3.7M310.05 321.45l3.7 3.7m0 -3.7l-3.7 3.7M310.35 322.05l3.7 3.7m0 -3.7l-3.7 3.7M310.75 324.05l3.7 3.7m0 -3.7l-3.7 3.7M311.15 320.45l3.7 3.7m0 -3.7l-3.7 3.7M311.25 319.15l3.7 3.7m0 -3.7l-3.7 3.7M311.65 323.15l3.7 3.7m0 -3.7l-3.7 3.7M311.95 323.15l3.7 3.7m0 -3.7l-3.7 3.7M312.25 322.55l3.7 3.7m0 -3.7l-3.7 3.7M312.65 322.15l3.7 3.7m0 -3.7l-3.7 3.7M313.25 321.95l3.7 3.7m0 -3.7l-3.7 3.7M313.35 317.75l3.7 3.7m0 -3.7l-3.7 3.7M313.75 323.25l3.7 3.7m0 -3.7l-3.7 3.7M314.15 318.95l3.7 3.7m0 -3.7l-3.7 3.7M314.45 322.35l3.7 3.7m0 -3.7l-3.7 3.7M314.75 317.65l3.7 3.7m0 -3.7l-3.7 3.7M315.35 319.35l3.7 3.7m0 -3.7l-3.7 3.7M315.55 318.55l3.7 3.7m0 -3.7l-3.7 3.7M315.85 322.05l3.7 3.7m0 -3.7l-3.7 3.7M316.35 317.75l3.7 3.7m0 -3.7l-3.7 3.7M316.65 321.95l3.7 3.7m0 -3.7l-3.7 3.7M316.95 322.35l3.7 3.7m0 -3.7l-3.7 3.7M317.15 321.25l3.7 3.7m0 -3.7l-3.7 3.7M317.75 316.85l3.7 3.7m0 -3.7l-3.7 3.7M317.85 316.85l3.7 3.7m0 -3.7l-3.7 3.7M318.15 320.25l3.7 3.7m0 -3.7l-3.7 3.7M318.75 319.65l3.7 3.7m0 -3.7l-3.7 3.7M319.05 315.95l3.7 3.7m0 -3.7l-3.7 3.7M319.25 315.85l3.7 3.7m0 -3.7l-3.7 3.7M319.85 313.95l3.7 3.7m0 -3.7l-3.7 3.7M320.05 315.65l3.7 3.7m0 -3.7l-3.7 3.7M320.35 315.55l3.7 3.7m0 -3.7l-3.7 3.7M320.75 314.25l3.7 3.7m0 -3.7l-3.7 3.7M320.95 318.15l3.7 3.7m0 -3.7l-3.7 3.7M321.55 314.75l3.7 3.7m0 -3.7l-3.7 3.7M321.75 315.75l3.7 3.7m0 -3.7l-3.7 3.7M322.35 316.25l3.7 3.7m0 -3.7l-3.7 3.7M322.55 315.15l3.7 3.7m0 -3.7l-3.7 3.7M322.95 315.15l3.7 3.7m0 -3.7l-3.7 3.7M323.35 311.15l3.7 3.7m0 -3.7l-3.7 3.7M323.85 314.95l3.7 3.7m0 -3.7l-3.7 3.7M324.15 311.05l3.7 3.7m0 -3.7l-3.7 3.7M324.55 310.85l3.7 3.7m0 -3.7l-3.7 3.7M325.15 312.35l3.7 3.7m0 -3.7l-3.7 3.7M325.35 310.25l3.7 3.7m0 -3.7l-3.7 3.7M325.75 310.35l3.7 3.7m0 -3.7l-3.7 3.7M326.55 310.35l3.7 3.7m0 -3.7l-3.7 3.7M326.95 307.25l3.7 3.7m0 -3.7l-3.7 3.7M327.45 309.55l3.7 3.7m0 -3.7l-3.7 3.7M327.85 306.35l3.7 3.7m0 -3.7l-3.7 3.7M328.35 308.55l3.7 3.7m0 -3.7l-3.7 3.7M328.85 306.65l3.7 3.7m0 -3.7l-3.7 3.7M329.15 307.45l3.7 3.7m0 -3.7l-3.7 3.7M329.75 305.05l3.7 3.7m0 -3.7l-3.7 3.7M330.05 303.85l3.7 3.7m0 -3.7l-3.7 3.7M330.95 303.75l3.7 3.7m0 -3.7l-3.7 3.7M331.25 303.55l3.7 3.7m0 -3.7l-3.7 3.7M331.95 304.25l3.7 3.7m0 -3.7l-3.7 3.7M332.55 301.65l3.7 3.7m0 -3.7l-3.7 3.7M333.45 302.25l3.7 3.7m0 -3.7l-3.7 3.7M333.95 302.45l3.7 3.7m0 -3.7l-3.7 3.7M334.55 300.65l3.7 3.7m0 -3.7l-3.7 3.7M334.95 300.95l3.7 3.7m0 -3.7l-3.7 3.7"/>
<path fill="#6b8fe3" d="M72.00 504.20h3.6v3.6h-3.6zM84.00 496.90h3.6v3.6h-3.6zM90.90 493.60h3.6v3.6h-3.6zM117.60 476.30h3.6v3.6h-3.6zM149.10 460.40h3.6v3.6h-3.6zM151.10 461.60h3.6v3.6h-3.6zM155.00 463.50h3.6v3.6h-3.6zM155.00 456.10h3.6v3.6h-3.6zM158.30 456.70h3.6v3.6h-3.6zM163.10 450.50h3.6v3.6h-3.6zM167.60 449.10h3.6v3.6h-3.6zM172.40 444.60h3.6v3.6h-3.6zM179.30 437.80h3.6v3.6h-3.6zM191.30 429.20h3.6v3.6h-3.6zM93.10 492.80h3.6v3.6h-3.6zM94.00 490.80h3.6v3.6h-3.6zM94.40 492.10h3.6v3.6h-3.6zM95.40 492.00h3.6v3.6h-3.6zM95.70 490.30h3.6v3.6h-3.6zM96.50 490.10h3.6v3.6h-3.6zM97.00 489.90h3.6v3.6h-3.6zM97.90 490.50h3.6v3.6h-3.6zM98.30 489.90h3.6v3.6h-3.6zM99.10 487.90h3.6v3.6h-3.6zM99.30 487.90h3.6v3.6h-3.6zM100.30 489.80h3.6v3.6h-3.6zM100.70 487.60h3.6v3.6h-3.6zM101.40 487.30h3.6v3.6h-3.6zM101.60 486.90h3.6v3.6h-3.6zM102.50 487.10h3.6v3.6h-3.6zM103.00 486.70h3.6v3.6h-3.6zM103.40 487.70h3.6v3.6h-3.6zM104.10 487.00h3.6v3.6h-3.6zM104.80 487.30h3.6v3.6h-3.6zM105.50 484.50h3.6v3.6h-3.6zM105.90 483.90h3.6v3.6h-3.6zM106.70 484.20h3.6v3.6h-3.6zM107.40 483.90h3.6v3.6h-3.6zM107.70 484.50h3.6v3.6h-3.6zM108.50 484.50h3.6v3.6h-3.6zM109.10 483.30h3.6v3.6h-3.6zM109.20 482.80h3.6v3.6h-3.6zM109.70 484.20h3.6v3.6h-3.6zM110.70 483.80h3.6v3.6h-3.6zM111.30 481.50h3.6v3.6h-3.6zM111.50 483.10h3.6v3.6h-3.6zM112.00 481.80h3.6v3.6h-3.6zM113.00 482.30h3.6v3.6h-3.6zM113.60 482.90h3.6v3.6h-3.6zM114.30 480.50h3.6v3.6h-3.6zM114.50 479.50h3.6v3.6h-3.6zM115.00 480.60h3.6v3.6h-3.6zM115.90 479.50h3.6v3.6h-3.6zM116.20 480.70h3.6v3.6h-3.6zM117.10 479.60h3.6v3.6h-3.6zM117.30 478.50h3.6v3.6h-3.6zM118.00 480.20h3.6v3.6h-3.6zM119.00 477.10h3.6v3.6h-3.6zM119.50 479.40h3.6v3.6h-3.6zM120.00 477.00h3.6v3.6h-3.6zM120.70 478.40h3.6v3.6h-3.6zM120.80 476.00h3.6v3.6h-3.6zM121.50 477.30h3.6v3.6h-3.6zM121.90 478.20h3.6v3.6h-3.6zM122.90 476.30h3.6v3.6h-3.6zM123.30 474.70h3.6v3.6h-3.6zM124.10 476.30h3.6v3.6h-3.6zM124.20 476.40h3.6v3.6h-3.6zM125.00 476.30h3.6v3.6h-3.6zM125.60 473.80h3.6v3.6h-3.6zM126.10 473.90h3.6v3.6h-3.6zM126.60 473.10h3.6v3.6h-3.6zM127.40 473.90h3.6v3.6h-3.6zM128.00 472.30h3.6v3.6h-3.6zM128.30 472.20h3.6v3.6h-3.6zM129.40 471.60h3.6v3.6h-3.6zM129.80 472.60h3.6v3.6h-3.6zM130.40 473.50h3.6v3.6h-3.6zM130.80 472.60h3.6v3.6h-3.6zM131.50 471.20h3.6v3.6h-3.6zM132.10 470.30h3.6v3.6h-3.6zM132.60 472.30h3.6v3.6h-3.6zM133.80 469.40h3.6v3.6h-3.6zM134.70 468.80h3.6v3.6h-3.6zM135.50 469.50h3.6v3.6h-3.6zM136.70 468.30h3.6v3.6h-3.6zM138.00 468.40h3.6v3.6h-3.6zM138.50 466.20h3.6v3.6h-3.6zM139.40 465.70h3.6v3.6h-3.6zM141.00 466.50h3.6v3.6h-3.6zM142.50 464.80h3.6v3.6h-3.6zM143.40 463.00h3.6v3.6h-3.6z"/>
<path fill="#e0281a" d="M165.30 468.82l1.95 3.3h-3.9zM178.40 460.52l1.95 3.3h-3.9zM186.00 458.72l1.95 3.3h-3.9zM191.50 457.12l1.95 3.3h-3.9zM195.20 455.22l1.95 3.3h-3.9zM211.90 440.42l1.95 3.3h-3.9zM234.10 433.62l1.95 3.3h-3.9zM237.70 432.02l1.95 3.3h-3.9zM241.60 429.62l1.95 3.3h-3.9zM247.50 423.82l1.95 3.3h-3.9zM247.80 425.62l1.95 3.3h-3.9zM250.80 427.32l1.95 3.3h-3.9zM251.80 420.82l1.95 3.3h-3.9zM255.40 421.42l1.95 3.3h-3.9zM266.80 413.02l1.95 3.3h-3.9zM197.30 453.72l1.95 3.3h-3.9zM198.70 452.72l1.95 3.3h-3.9zM199.20 452.52l1.95 3.3h-3.9zM199.80 452.42l1.95 3.3h-3.9zM200.50 451.22l1.95 3.3h-3.9zM201.20 451.92l1.95 3.3h-3.9zM201.60 452.92l1.95 3.3h-3.9zM202.80 450.32l1.95 3.3h-3.9zM203.00 451.62l1.95 3.3h-3.9zM203.80 450.62l1.95 3.3h-3.9zM204.60 450.72l1.95 3.3h-3.9zM205.00 449.72l1.95 3.3h-3.9zM206.00 450.42l1.95 3.3h-3.9zM206.70 449.82l1.95 3.3h-3.9zM207.20 447.32l1.95 3.3h-3.9zM207.70 449.12l1.95 3.3h-3.9zM208.30 447.02l1.95 3.3h-3.9zM209.20 448.62l1.95 3.3h-3.9zM210.10 448.02l1.95 3.3h-3.9zM210.40 445.92l1.95 3.3h-3.9zM211.20 448.02l1.95 3.3h-3.9zM211.80 446.82l1.95 3.3h-3.9zM212.10 445.92l1.95 3.3h-3.9zM213.10 446.82l1.95 3.3h-3.9zM213.60 446.72l1.95 3.3h-3.9zM214.50 445.52l1.95 3.3h-3.9zM214.90 445.72l1.95 3.3h-3.9zM215.50 444.52l1.95 3.3h-3.9zM216.60 445.22l1.95 3.3h-3.9zM217.30 442.82l1.95 3.3h-3.9zM218.00 443.32l1.95 3.3h-3.9zM218.10 444.32l1.95 3.3h-3.9zM219.30 443.92l1.95 3.3h-3.9zM219.60 441.72l1.95 3.3h-3.9zM220.60 442.42l1.95 3.3h-3.9zM221.30 442.12l1.95 3.3h-3.9zM222.00 441.72l1.95 3.3h-3.9zM222.50 441.82l1.95 3.3h-3.9zM223.00 441.62l1.95 3.3h-3.9zM223.60 441.32l1.95 3.3h-3.9zM224.40 440.12l1.95 3.3h-3.9zM224.70 439.22l1.95 3.3h-3.9zM225.60 437.92l1.95 3.3h-3.9zM226.50 437.92l1.95 3.3h-3.9zM227.30 437.42l1.95 3.3h-3.9zM229.50 436.02l1.95 3.3h-3.9zM230.60 436.82l1.95 3.3h-3.9zM231.00 436.02l1.95 3.3h-3.9z"/>
<path fill="#12a537" d="M226.30 448.40a2.0 2.0 0 1 0 4.0 0a2.0 2.0 0 1 0 -4.0 0zM236.60 441.50a2.0 2.0 0 1 0 4.0 0a2.0 2.0 0 1 0 -4.0 0zM240.60 438.00a2.0 2.0 0 1 0 4.0 0a2.0 2.0 0 1 0 -4.0 0zM240.60 440.60a2.0 2.0 0 1 0 4.0 0a2.0 2.0 0 1 0 -4.0 0zM249.20 432.00a2.0 2.0 0 1 0 4.0 0a2.0 2.0 0 1 0 -4.0 0zM255.20 430.30a2.0 2.0 0 1 0 4.0 0a2.0 2.0 0 1 0 -4.0 0zM345.40 372.90a2.0 2.0 0 1 0 4.0 0a2.0 2.0 0 1 0 -4.0 0zM333.00 380.80a2.0 2.0 0 1 0 4.0 0a2.0 2.0 0 1 0 -4.0 0zM325.00 388.40a2.0 2.0 0 1 0 4.0 0a2.0 2.0 0 1 0 -4.0 0zM323.00 392.80a2.0 2.0 0 1 0 4.0 0a2.0 2.0 0 1 0 -4.0 0zM313.40 393.90a2.0 2.0 0 1 0 4.0 0a2.0 2.0 0 1 0 -4.0 0zM315.00 399.00a2.0 2.0 0 1 0 4.0 0a2.0 2.0 0 1 0 -4.0 0zM304.80 399.00a2.0 2.0 0 1 0 4.0 0a2.0 2.0 0 1 0 -4.0 0zM305.80 401.40a2.0 2.0 0 1 0 4.0 0a2.0 2.0 0 1 0 -4.0 0zM309.20 403.20a2.0 2.0 0 1 0 4.0 0a2.0 2.0 0 1 0 -4.0 0zM297.90 403.20a2.0 2.0 0 1 0 4.0 0a2.0 2.0 0 1 0 -4.0 0zM300.60 404.20a2.0 2.0 0 1 0 4.0 0a2.0 2.0 0 1 0 -4.0 0zM303.00 404.90a2.0 2.0 0 1 0 4.0 0a2.0 2.0 0 1 0 -4.0 0zM315.80 406.60a2.0 2.0 0 1 0 4.0 0a2.0 2.0 0 1 0 -4.0 0zM292.00 407.60a2.0 2.0 0 1 0 4.0 0a2.0 2.0 0 1 0 -4.0 0zM301.30 409.40a2.0 2.0 0 1 0 4.0 0a2.0 2.0 0 1 0 -4.0 0zM298.90 411.80a2.0 2.0 0 1 0 4.0 0a2.0 2.0 0 1 0 -4.0 0zM289.30 410.00a2.0 2.0 0 1 0 4.0 0a2.0 2.0 0 1 0 -4.0 0zM285.80 411.80a2.0 2.0 0 1 0 4.0 0a2.0 2.0 0 1 0 -4.0 0zM292.70 414.20a2.0 2.0 0 1 0 4.0 0a2.0 2.0 0 1 0 -4.0 0zM291.00 415.20a2.0 2.0 0 1 0 4.0 0a2.0 2.0 0 1 0 -4.0 0zM293.80 416.90a2.0 2.0 0 1 0 4.0 0a2.0 2.0 0 1 0 -4.0 0zM282.40 413.50a2.0 2.0 0 1 0 4.0 0a2.0 2.0 0 1 0 -4.0 0zM279.00 415.20a2.0 2.0 0 1 0 4.0 0a2.0 2.0 0 1 0 -4.0 0zM248.30 435.40a2.0 2.0 0 1 0 4.0 0a2.0 2.0 0 1 0 -4.0 0zM250.40 437.10a2.0 2.0 0 1 0 4.0 0a2.0 2.0 0 1 0 -4.0 0zM255.20 433.70a2.0 2.0 0 1 0 4.0 0a2.0 2.0 0 1 0 -4.0 0zM258.60 435.80a2.0 2.0 0 1 0 4.0 0a2.0 2.0 0 1 0 -4.0 0zM256.90 426.80a2.0 2.0 0 1 0 4.0 0a2.0 2.0 0 1 0 -4.0 0zM259.80 424.60a2.0 2.0 0 1 0 4.0 0a2.0 2.0 0 1 0 -4.0 0zM265.50 422.20a2.0 2.0 0 1 0 4.0 0a2.0 2.0 0 1 0 -4.0 0zM268.60 420.30a2.0 2.0 0 1 0 4.0 0a2.0 2.0 0 1 0 -4.0 0zM274.10 417.40a2.0 2.0 0 1 0 4.0 0a2.0 2.0 0 1 0 -4.0 0zM278.40 413.90a2.0 2.0 0 1 0 4.0 0a2.0 2.0 0 1 0 -4.0 0zM282.40 412.70a2.0 2.0 0 1 0 4.0 0a2.0 2.0 0 1 0 -4.0 0zM285.80 411.00a2.0 2.0 0 1 0 4.0 0a2.0 2.0 0 1 0 -4.0 0zM288.70 409.30a2.0 2.0 0 1 0 4.0 0a2.0 2.0 0 1 0 -4.0 0zM292.20 407.00a2.0 2.0 0 1 0 4.0 0a2.0 2.0 0 1 0 -4.0 0zM292.70 411.30a2.0 2.0 0 1 0 4.0 0a2.0 2.0 0 1 0 -4.0 0zM291.30 413.10a2.0 2.0 0 1 0 4.0 0a2.0 2.0 0 1 0 -4.0 0zM287.90 417.40a2.0 2.0 0 1 0 4.0 0a2.0 2.0 0 1 0 -4.0 0zM293.90 414.80a2.0 2.0 0 1 0 4.0 0a2.0 2.0 0 1 0 -4.0 0zM282.40 421.10a2.0 2.0 0 1 0 4.0 0a2.0 2.0 0 1 0 -4.0 0zM299.90 410.50a2.0 2.0 0 1 0 4.0 0a2.0 2.0 0 1 0 -4.0 0zM260.40 431.10a2.0 2.0 0 1 0 4.0 0a2.0 2.0 0 1 0 -4.0 0zM262.10 432.00a2.0 2.0 0 1 0 4.0 0a2.0 2.0 0 1 0 -4.0 0zM263.80 429.40a2.0 2.0 0 1 0 4.0 0a2.0 2.0 0 1 0 -4.0 0zM265.50 431.10a2.0 2.0 0 1 0 4.0 0a2.0 2.0 0 1 0 -4.0 0zM267.20 427.70a2.0 2.0 0 1 0 4.0 0a2.0 2.0 0 1 0 -4.0 0zM269.00 429.40a2.0 2.0 0 1 0 4.0 0a2.0 2.0 0 1 0 -4.0 0zM268.10 426.00a2.0 2.0 0 1 0 4.0 0a2.0 2.0 0 1 0 -4.0 0zM270.70 425.10a2.0 2.0 0 1 0 4.0 0a2.0 2.0 0 1 0 -4.0 0zM272.40 426.80a2.0 2.0 0 1 0 4.0 0a2.0 2.0 0 1 0 -4.0 0zM273.30 422.50a2.0 2.0 0 1 0 4.0 0a2.0 2.0 0 1 0 -4.0 0zM275.00 424.20a2.0 2.0 0 1 0 4.0 0a2.0 2.0 0 1 0 -4.0 0zM275.00 419.10a2.0 2.0 0 1 0 4.0 0a2.0 2.0 0 1 0 -4.0 0zM276.70 420.80a2.0 2.0 0 1 0 4.0 0a2.0 2.0 0 1 0 -4.0 0zM277.60 423.40a2.0 2.0 0 1 0 4.0 0a2.0 2.0 0 1 0 -4.0 0zM279.30 416.50a2.0 2.0 0 1 0 4.0 0a2.0 2.0 0 1 0 -4.0 0zM279.30 419.90a2.0 2.0 0 1 0 4.0 0a2.0 2.0 0 1 0 -4.0 0zM275.00 427.70a2.0 2.0 0 1 0 4.0 0a2.0 2.0 0 1 0 -4.0 0zM275.80 415.60a2.0 2.0 0 1 0 4.0 0a2.0 2.0 0 1 0 -4.0 0zM263.10 430.20a2.0 2.0 0 1 0 4.0 0a2.0 2.0 0 1 0 -4.0 0zM281.10 418.50a2.0 2.0 0 1 0 4.0 0a2.0 2.0 0 1 0 -4.0 0zM280.20 420.20a2.0 2.0 0 1 0 4.0 0a2.0 2.0 0 1 0 -4.0 0zM261.90 431.80a2.0 2.0 0 1 0 4.0 0a2.0 2.0 0 1 0 -4.0 0zM268.30 429.90a2.0 2.0 0 1 0 4.0 0a2.0 2.0 0 1 0 -4.0 0zM262.50 430.00a2.0 2.0 0 1 0 4.0 0a2.0 2.0 0 1 0 -4.0 0zM273.00 421.20a2.0 2.0 0 1 0 4.0 0a2.0 2.0 0 1 0 -4.0 0zM279.70 419.40a2.0 2.0 0 1 0 4.0 0a2.0 2.0 0 1 0 -4.0 0z"/>
<path fill="none" stroke="#a45cf8" stroke-width="1.4" d="M271.65 428.95l3.7 3.7m0 -3.7l-3.7 3.7M282.05 421.55l3.7 3.7m0 -3.7l-3.7 3.7M288.05 418.95l3.7 3.7m0 -3.7l-3.7 3.7M288.85 421.05l3.7 3.7m0 -3.7l-3.7 3.7M295.75 416.35l3.7 3.7m0 -3.7l-3.7 3.7M298.35 415.55l3.7 3.7m0 -3.7l-3.7 3.7M302.65 417.25l3.7 3.7m0 -3.7l-3.7 3.7M333.75 401.65l3.7 3.7m0 -3.7l-3.7 3.7M350.05 380.55l3.7 3.7m0 -3.7l-3.7 3.7M351.35 383.05l3.7 3.7m0 -3.7l-3.7 3.7M353.45 384.15l3.7 3.7m0 -3.7l-3.7 3.7M359.95 381.35l3.7 3.7m0 -3.7l-3.7 3.7M364.45 385.85l3.7 3.7m0 -3.7l-3.7 3.7M364.45 387.55l3.7 3.7m0 -3.7l-3.7 3.7M372.65 372.75l3.7 3.7m0 -3.7l-3.7 3.7M338.15 393.65l3.7 3.7m0 -3.7l-3.7 3.7M341.65 391.45l3.7 3.7m0 -3.7l-3.7 3.7M344.15 390.15l3.7 3.7m0 -3.7l-3.7 3.7M346.65 389.45l3.7 3.7m0 -3.7l-3.7 3.7M300.45 415.75l3.7 3.7m0 -3.7l-3.7 3.7M300.65 413.95l3.7 3.7m0 -3.7l-3.7 3.7M301.35 413.55l3.7 3.7m0 -3.7l-3.7 3.7M301.65 414.95l3.7 3.7m0 -3.7l-3.7 3.7M302.05 414.05l3.7 3.7m0 -3.7l-3.7 3.7M302.55 412.95l3.7 3.7m0 -3.7l-3.7 3.7M303.15 411.55l3.7 3.7m0 -3.7l-3.7 3.7M303.45 411.65l3.7 3.7m0 -3.7l-3.7 3.7M303.85 412.75l3.7 3.7m0 -3.7l-3.7 3.7M304.15 410.25l3.7 3.7m0 -3.7l-3.7 3.7M304.55 413.05l3.7 3.7m0 -3.7l-3.7 3.7M304.65 414.65l3.7 3.7m0 -3.7l-3.7 3.7M305.35 413.45l3.7 3.7m0 -3.7l-3.7 3.7M305.65 411.65l3.7 3.7m0 -3.7l-3.7 3.7M306.05 409.25l3.7 3.7m0 -3.7l-3.7 3.7M306.35 414.25l3.7 3.7m0 -3.7l-3.7 3.7M306.45 412.15l3.7 3.7m0 -3.7l-3.7 3.7M307.05 408.65l3.7 3.7m0 -3.7l-3.7 3.7M307.25 413.25l3.7 3.7m0 -3.7l-3.7 3.7M307.55 408.85l3.7 3.7m0 -3.7l-3.7 3.7M308.05 412.25l3.7 3.7m0 -3.7l-3.7 3.7M308.45 411.25l3.7 3.7m0 -3.7l-3.7 3.7M308.55 412.35l3.7 3.7m0 -3.7l-3.7 3.7M308.95 410.55l3.7 3.7m0 -3.7l-3.7 3.7M309.45 413.05l3.7 3.7m0 -3.7l-3.7 3.7M309.75 407.65l3.7 3.7m0 -3.7l-3.7 3.7M310.05 410.15l3.7 3.7m0 -3.7l-3.7 3.7M310.55 407.75l3.7 3.7m0 -3.7l-3.7 3.7M310.75 406.75l3.7 3.7m0 -3.7l-3.7 3.7M311.25 406.45l3.7 3.7m0 -3.7l-3.7 3.7M311.45 407.35l3.7 3.7m0 -3.7l-3.7 3.7M311.75 408.65l3.7 3.7m0 -3.7l-3.7 3.7M312.05 407.65l3.7 3.7m0 -3.7l-3.7 3.7M312.45 409.05l3.7 3.7m0 -3.7l-3.7 3.7M313.05 407.05l3.7 3.7m0 -3.7l-3.7 3.7M313.15 405.95l3.7 3.7m0 -3.7l-3.7 3.7M313.75 410.45l3.7 3.7m0 -3.7l-3.7 3.7M314.05 406.35l3.7 3.7m0 -3.7l-3.7 3.7M314.25 409.55l3.7 3.7m0 -3.7l-3.7 3.7M314.65 409.85l3.7 3.7m0 -3.7l-3.7 3.7M314.85 410.85l3.7 3.7m0 -3.7l-3.7 3.7M315.35 408.85l3.7 3.7m0 -3.7l-3.7 3.7M315.65 407.65l3.7 3.7m0 -3.7l-3.7 3.7M315.85 405.85l3.7 3.7m0 -3.7l-3.7 3.7M316.35 405.15l3.7 3.7m0 -3.7l-3.7 3.7M316.75 405.55l3.7 3.7m0 -3.7l-3.7 3.7M317.15 406.65l3.7 3.7m0 -3.7l-3.7 3.7M317.45 405.55l3.7 3.7m0 -3.7l-3.7 3.7M317.65 407.95l3.7 3.7m0 -3.7l-3.7 3.7M318.25 404.75l3.7 3.7m0 -3.7l-3.7 3.7M318.25 408.65l3.7 3.7m0 -3.7l-3.7 3.7M318.85 407.65l3.7 3.7m0 -3.7l-3.7 3.7M319.25 405.35l3.7 3.7m0 -3.7l-3.7 3.7M319.65 407.25l3.7 3.7m0 -3.7l-3.7 3.7M319.95 407.75l3.7 3.7m0 -3.7l-3.7 3.7M320.35 405.35l3.7 3.7m0 -3.7l-3.7 3.7M320.35 405.45l3.7 3.7m0 -3.7l-3.7 3.7M320.95 402.05l3.7 3.7m0 -3.7l-3.7 3.7M321.25 406.15l3.7 3.7m0 -3.7l-3.7 3.7M321.65 406.35l3.7 3.7m0 -3.7l-3.7 3.7M322.15 402.25l3.7 3.7m0 -3.7l-3.7 3.7M322.45 401.35l3.7 3.7m0 -3.7l-3.7 3.7M322.95 402.25l3.7 3.7m0 -3.7l-3.7 3.7M323.35 400.85l3.7 3.7m0 -3.7l-3.7 3.7M323.65 400.95l3.7 3.7m0 -3.7l-3.7 3.7M324.15 403.85l3.7 3.7m0 -3.7l-3.7 3.7M324.35 402.55l3.7 3.7m0 -3.7l-3.7 3.7M324.65 401.55l3.7 3.7m0 -3.7l-3.7 3.7M325.05 401.45l3.7 3.7m0 -3.7l-3.7 3.7M325.45 402.15l3.7 3.7m0 -3.7l-3.7 3.7M326.05 400.65l3.7 3.7m0 -3.7l-3.7 3.7M326.45 402.65l3.7 3.7m0 -3.7l-3.7 3.7M327.25 402.15l3.7 3.7m0 -3.7l-3.7 3.7M327.45 398.95l3.7 3.7m0 -3.7l-3.7 3.7M327.85 401.35l3.7 3.7m0 -3.7l-3.7 3.7M328.45 398.65l3.7 3.7m0 -3.7l-3.7 3.7M329.25 398.45l3.7 3.7m0 -3.7l-3.7 3.7M329.55 398.85l3.7 3.7m0 -3.7l-3.7 3.7M329.85 398.55l3.7 3.7m0 -3.7l-3.7 3.7M330.75 398.45l3.7 3.7m0 -3.7l-3.7 3.7M331.35 396.75l3.7 3.7m0 -3.7l-3.7 3.7M331.55 397.65l3.7 3.7m0 -3.7l-3.7 3.7M332.45 397.15l3.7 3.7m0 -3.7l-3.7 3.7M332.85 397.85l3.7 3.7m0 -3.7l-3.7 3.7M333.85 396.85l3.7 3.7m0 -3.7l-3.7 3.7M334.05 396.85l3.7 3.7m0 -3.7l-3.7 3.7M335.15 396.15l3.7 3.7m0 -3.7l-3.7 3.7M335.95 395.25l3.7 3.7m0 -3.7l-3.7 3.7"/>
<g stroke="#000" stroke-width="1.4" fill="none">
<rect x="59.8" y="12.7" width="324.5" height="504.50000000000006"/>
<line x1="59.8" y1="185.1" x2="384.3" y2="185.1"/>
<line x1="59.8" y1="356.1" x2="384.3" y2="356.1"/>
<line x1="71.00" y1="12.7" x2="71.00" y2="16.099999999999998"/>
<line x1="71.00" y1="181.7" x2="71.00" y2="188.5"/>
<line x1="71.00" y1="352.70000000000005" x2="71.00" y2="359.5"/>
<line x1="71.00" y1="513.8000000000001" x2="71.00" y2="517.2"/>
<line x1="115.77" y1="12.7" x2="115.77" y2="16.099999999999998"/>
<line x1="115.77" y1="181.7" x2="115.77" y2="188.5"/>
<line x1="115.77" y1="352.70000000000005" x2="115.77" y2="359.5"/>
<line x1="115.77" y1="513.8000000000001" x2="115.77" y2="517.2"/>
<line x1="160.54" y1="12.7" x2="160.54" y2="16.099999999999998"/>
<line x1="160.54" y1="181.7" x2="160.54" y2="188.5"/>
<line x1="160.54" y1="352.70000000000005" x2="160.54" y2="359.5"/>
<line x1="160.54" y1="513.8000000000001" x2="160.54" y2="517.2"/>
<line x1="205.31" y1="12.7" x2="205.31" y2="16.099999999999998"/>
<line x1="205.31" y1="181.7" x2="205.31" y2="188.5"/>
<line x1="205.31" y1="352.70000000000005" x2="205.31" y2="359.5"/>
<line x1="205.31" y1="513.8000000000001" x2="205.31" y2="517.2"/>
<line x1="250.08" y1="12.7" x2="250.08" y2="16.099999999999998"/>
<line x1="250.08" y1="181.7" x2="250.08" y2="188.5"/>
<line x1="250.08" y1="352.70000000000005" x2="250.08" y2="359.5"/>
<line x1="250.08" y1="513.8000000000001" x2="250.08" y2="517.2"/>
<line x1="294.85" y1="12.7" x2="294.85" y2="16.099999999999998"/>
<line x1="294.85" y1="181.7" x2="294.85" y2="188.5"/>
<line x1="294.85" y1="352.70000000000005" x2="294.85" y2="359.5"/>
<line x1="294.85" y1="513.8000000000001" x2="294.85" y2="517.2"/>
<line x1="339.62" y1="12.7" x2="339.62" y2="16.099999999999998"/>
<line x1="339.62" y1="181.7" x2="339.62" y2="188.5"/>
<line x1="339.62" y1="352.70000000000005" x2="339.62" y2="359.5"/>
<line x1="339.62" y1="513.8000000000001" x2="339.62" y2="517.2"/>
<line x1="59.8" y1="34.25" x2="63.199999999999996" y2="34.25"/>
<line x1="380.90000000000003" y1="34.25" x2="384.3" y2="34.25"/>
<line x1="59.8" y1="55.80" x2="63.199999999999996" y2="55.80"/>
<line x1="380.90000000000003" y1="55.80" x2="384.3" y2="55.80"/>
<line x1="59.8" y1="77.35" x2="63.199999999999996" y2="77.35"/>
<line x1="380.90000000000003" y1="77.35" x2="384.3" y2="77.35"/>
<line x1="59.8" y1="98.90" x2="63.199999999999996" y2="98.90"/>
<line x1="380.90000000000003" y1="98.90" x2="384.3" y2="98.90"/>
<line x1="59.8" y1="120.45" x2="63.199999999999996" y2="120.45"/>
<line x1="380.90000000000003" y1="120.45" x2="384.3" y2="120.45"/>
<line x1="59.8" y1="142.00" x2="63.199999999999996" y2="142.00"/>
<line x1="380.90000000000003" y1="142.00" x2="384.3" y2="142.00"/>
<line x1="59.8" y1="163.55" x2="63.199999999999996" y2="163.55"/>
<line x1="380.90000000000003" y1="163.55" x2="384.3" y2="163.55"/>
<line x1="59.8" y1="219.20" x2="63.199999999999996" y2="219.20"/>
<line x1="380.90000000000003" y1="219.20" x2="384.3" y2="219.20"/>
<line x1="59.8" y1="253.40" x2="63.199999999999996" y2="253.40"/>
<line x1="380.90000000000003" y1="253.40" x2="384.3" y2="253.40"/>
<line x1="59.8" y1="287.60" x2="63.199999999999996" y2="287.60"/>
<line x1="380.90000000000003" y1="287.60" x2="384.3" y2="287.60"/>
<line x1="59.8" y1="321.80" x2="63.199999999999996" y2="321.80"/>
<line x1="380.90000000000003" y1="321.80" x2="384.3" y2="321.80"/>
<line x1="59.8" y1="365.50" x2="63.199999999999996" y2="365.50"/>
<line x1="380.90000000000003" y1="365.50" x2="384.3" y2="365.50"/>
<line x1="59.8" y1="389.65" x2="63.199999999999996" y2="389.65"/>
<line x1="380.90000000000003" y1="389.65" x2="384.3" y2="389.65"/>
<line x1="59.8" y1="413.80" x2="63.199999999999996" y2="413.80"/>
<line x1="380.90000000000003" y1="413.80" x2="384.3" y2="413.80"/>
<line x1="59.8" y1="437.95" x2="63.199999999999996" y2="437.95"/>
<line x1="380.90000000000003" y1="437.95" x2="384.3" y2="437.95"/>
<line x1="59.8" y1="462.10" x2="63.199999999999996" y2="462.10"/>
<line x1="380.90000000000003" y1="462.10" x2="384.3" y2="462.10"/>
<line x1="59.8" y1="486.25" x2="63.199999999999996" y2="486.25"/>
<line x1="380.90000000000003" y1="486.25" x2="384.3" y2="486.25"/>
<line x1="59.8" y1="510.40" x2="63.199999999999996" y2="510.40"/>
<line x1="380.90000000000003" y1="510.40" x2="384.3" y2="510.40"/>
</g>
<g font-family="Liberation Sans, sans-serif" font-size="12" fill="#000">
<text x="51.9" y="17.05" text-anchor="end" font-size="12.3">0.6</text>
<text x="51.9" y="38.60" text-anchor="end" font-size="12.3">0.4</text>
<text x="51.9" y="60.15" text-anchor="end" font-size="12.3">0.2</text>
<text x="51.9" y="81.70" text-anchor="end" font-size="12.3">0.0</text>
<text x="51.9" y="103.25" text-anchor="end" font-size="12.3">-0.2</text>
<text x="51.9" y="124.80" text-anchor="end" font-size="12.3">-0.4</text>
<text x="51.9" y="146.35" text-anchor="end" font-size="12.3">-0.6</text>
<text x="51.9" y="167.90" text-anchor="end" font-size="12.3">-0.8</text>
<text x="51.9" y="189.45" text-anchor="end" font-size="12.3">-1.0</text>
<text x="51.9" y="223.55" text-anchor="end" font-size="12.3">2.7</text>
<text x="51.9" y="257.75" text-anchor="end" font-size="12.3">2.6</text>
<text x="51.9" y="291.95" text-anchor="end" font-size="12.3">2.5</text>
<text x="51.9" y="326.15" text-anchor="end" font-size="12.3">2.4</text>
<text x="51.9" y="369.85" text-anchor="end" font-size="12.3">2.5</text>
<text x="51.9" y="394.00" text-anchor="end" font-size="12.3">2.2</text>
<text x="51.9" y="418.15" text-anchor="end" font-size="12.3">1.9</text>
<text x="51.9" y="442.30" text-anchor="end" font-size="12.3">1.6</text>
<text x="51.9" y="466.45" text-anchor="end" font-size="12.3">1.3</text>
<text x="51.9" y="490.60" text-anchor="end" font-size="12.3">1.0</text>
<text x="51.9" y="514.75" text-anchor="end" font-size="12.3">0.7</text>
<text x="71.00" y="534.2" text-anchor="middle">-1</text>
<text x="115.77" y="534.2" text-anchor="middle">-0.8</text>
<text x="160.54" y="534.2" text-anchor="middle">-0.6</text>
<text x="205.31" y="534.2" text-anchor="middle">-0.4</text>
<text x="250.08" y="534.2" text-anchor="middle">-0.2</text>
<text x="296.65" y="534.2" text-anchor="middle">0</text>
<text x="341.42" y="534.2" text-anchor="middle">0.2</text>
<text x="386.19" y="534.2" text-anchor="middle">0.4</text>
<text x="222" y="551.5" text-anchor="middle">ln(ω<tspan font-size="10.4" dy="3">mx</tspan><tspan dy="-3"> M)</tspan></text>
<text transform="translate(12.3,99.2) rotate(-90)" text-anchor="middle">ln(<tspan font-size="11">ω</tspan><tspan font-size="10.4" dy="3">qn</tspan><tspan dy="-3"> M</tspan><tspan font-size="10.4" dy="3">h</tspan><tspan dy="-3">)</tspan></text>
<text transform="translate(19.3,270.9) rotate(-90)" text-anchor="middle">ln(τ<tspan font-size="10.4" dy="3">qn</tspan><tspan dy="-3">/M</tspan><tspan font-size="10.4" dy="3">h</tspan><tspan dy="-3">)</tspan></text>
<text transform="translate(20.3,437.2) rotate(-90)" text-anchor="middle">ln(Q)</text>
</g>
</svg>
</body></html>
